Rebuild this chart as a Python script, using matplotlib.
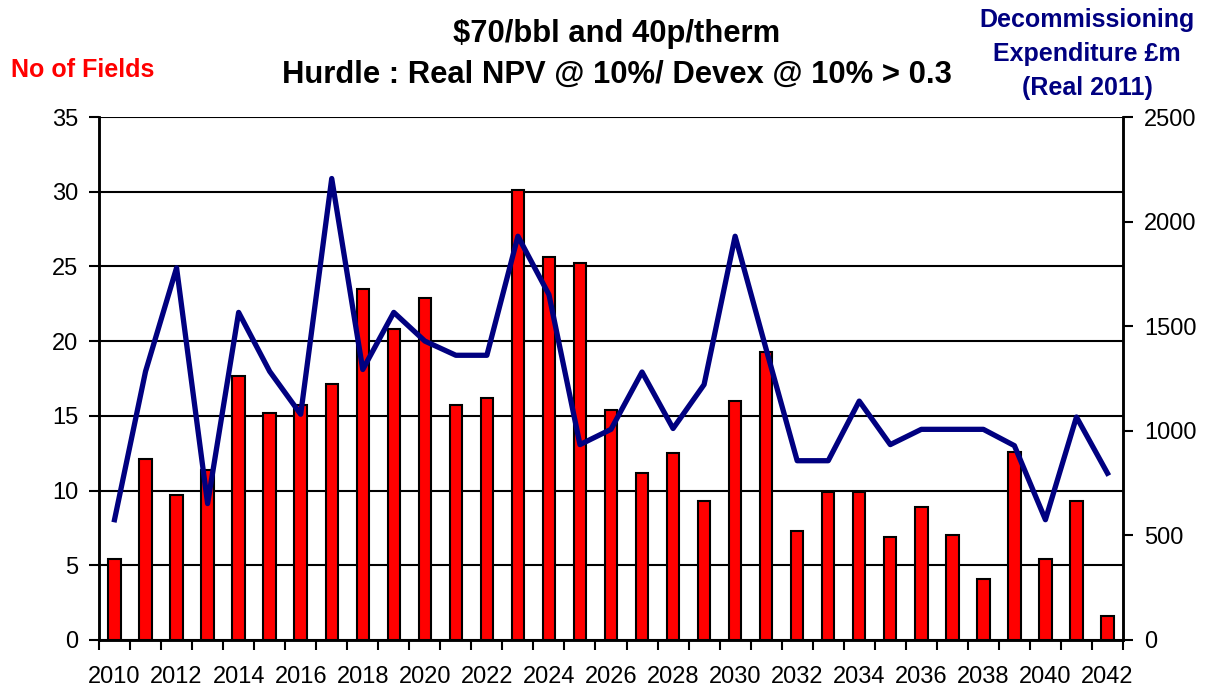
import matplotlib
matplotlib.use("Agg")
import matplotlib.pyplot as plt
import numpy as np

plt.rcParams['font.family'] = ['Liberation Sans', 'DejaVu Sans']

years = list(range(2010, 2043))
fields = [5.4, 12.1, 9.7, 11.4, 17.7, 15.2, 15.7, 17.1, 23.5, 20.8, 22.9,
          15.7, 16.2, 30.1, 25.6, 25.2, 15.4, 11.2, 12.5, 9.3, 16.0, 19.3,
          7.3, 9.9, 9.9, 6.9, 8.9, 7.0, 4.1, 12.6, 5.4, 9.3, 1.6]
decom = [575, 1284, 1779, 652, 1566, 1284, 1079, 2206, 1293, 1566, 1429,
         1361, 1361, 1930, 1651, 934, 1007, 1281, 1011, 1221, 1930, 1390,
         857, 857, 1142, 934, 1007, 1007, 1007, 929, 575, 1066, 797]
tick_labels = [str(y) if (y - 2010) % 2 == 0 else "" for y in years]

W, H = 1211, 690
fig = plt.figure(figsize=(W / 100, H / 100), dpi=100)
ax = fig.add_axes([99 / W, 1 - 640 / H, (1123 - 99) / W, (640 - 117) / H])
x = np.arange(len(years))

ax.bar(x, fields, width=0.4, color='#FF0000', edgecolor='black', linewidth=1.5, zorder=3)
ax.set_xlim(-0.5, len(years) - 0.5)
ax.set_ylim(0, 35)
ax.set_yticks(np.arange(0, 36, 5))
ax.yaxis.grid(True, color='black', linewidth=1.5)
ax.set_axisbelow(True)
ax.set_xticks(x)
ax.set_xticklabels(tick_labels)
ax.tick_params(axis='x', which='major', length=0, pad=19, labelsize=17)
ax.set_xticks(np.arange(-0.5, len(years), 1.0), minor=True)
ax.tick_params(axis='x', which='minor', length=7, width=1.5, direction='out')
ax.tick_params(axis='y', length=7, width=1.5, direction='out', labelsize=17, pad=8)
for s in ['left', 'bottom', 'right']:
    ax.spines[s].set_linewidth(1.8)
ax.spines['top'].set_visible(False)

ax2 = ax.twinx()
ax2.plot(x, decom, color='#000080', linewidth=3.8, zorder=4)
ax2.set_ylim(0, 2500)
ax2.set_yticks(np.arange(0, 2501, 500))
ax2.tick_params(axis='y', length=7, width=1.5, direction='out', labelsize=17, pad=8)
for s in ['left', 'bottom', 'right']:
    ax2.spines[s].set_linewidth(1.8)
ax2.spines['top'].set_visible(False)

fig.text(617 / W, 1 - 34 / H, "$70/bbl and 40p/therm", ha='center', va='center',
         fontsize=22.3, fontweight='bold')
fig.text(617 / W, 1 - 75 / H, "Hurdle : Real NPV @ 10%/ Devex @ 10% > 0.3", ha='center',
         va='center', fontsize=22.3, fontweight='bold')
fig.text(83 / W, 1 - 70 / H, "No of Fields", ha='center', va='center',
         fontsize=18, fontweight='bold', color='#FF0000')
fig.text(1087 / W, 1 - 54 / H, "Decommissioning\nExpenditure £m\n(Real 2011)", ha='center',
         va='center', fontsize=18, fontweight='bold', color='#000080', linespacing=1.55)

fig.savefig("out.png", dpi=100)
